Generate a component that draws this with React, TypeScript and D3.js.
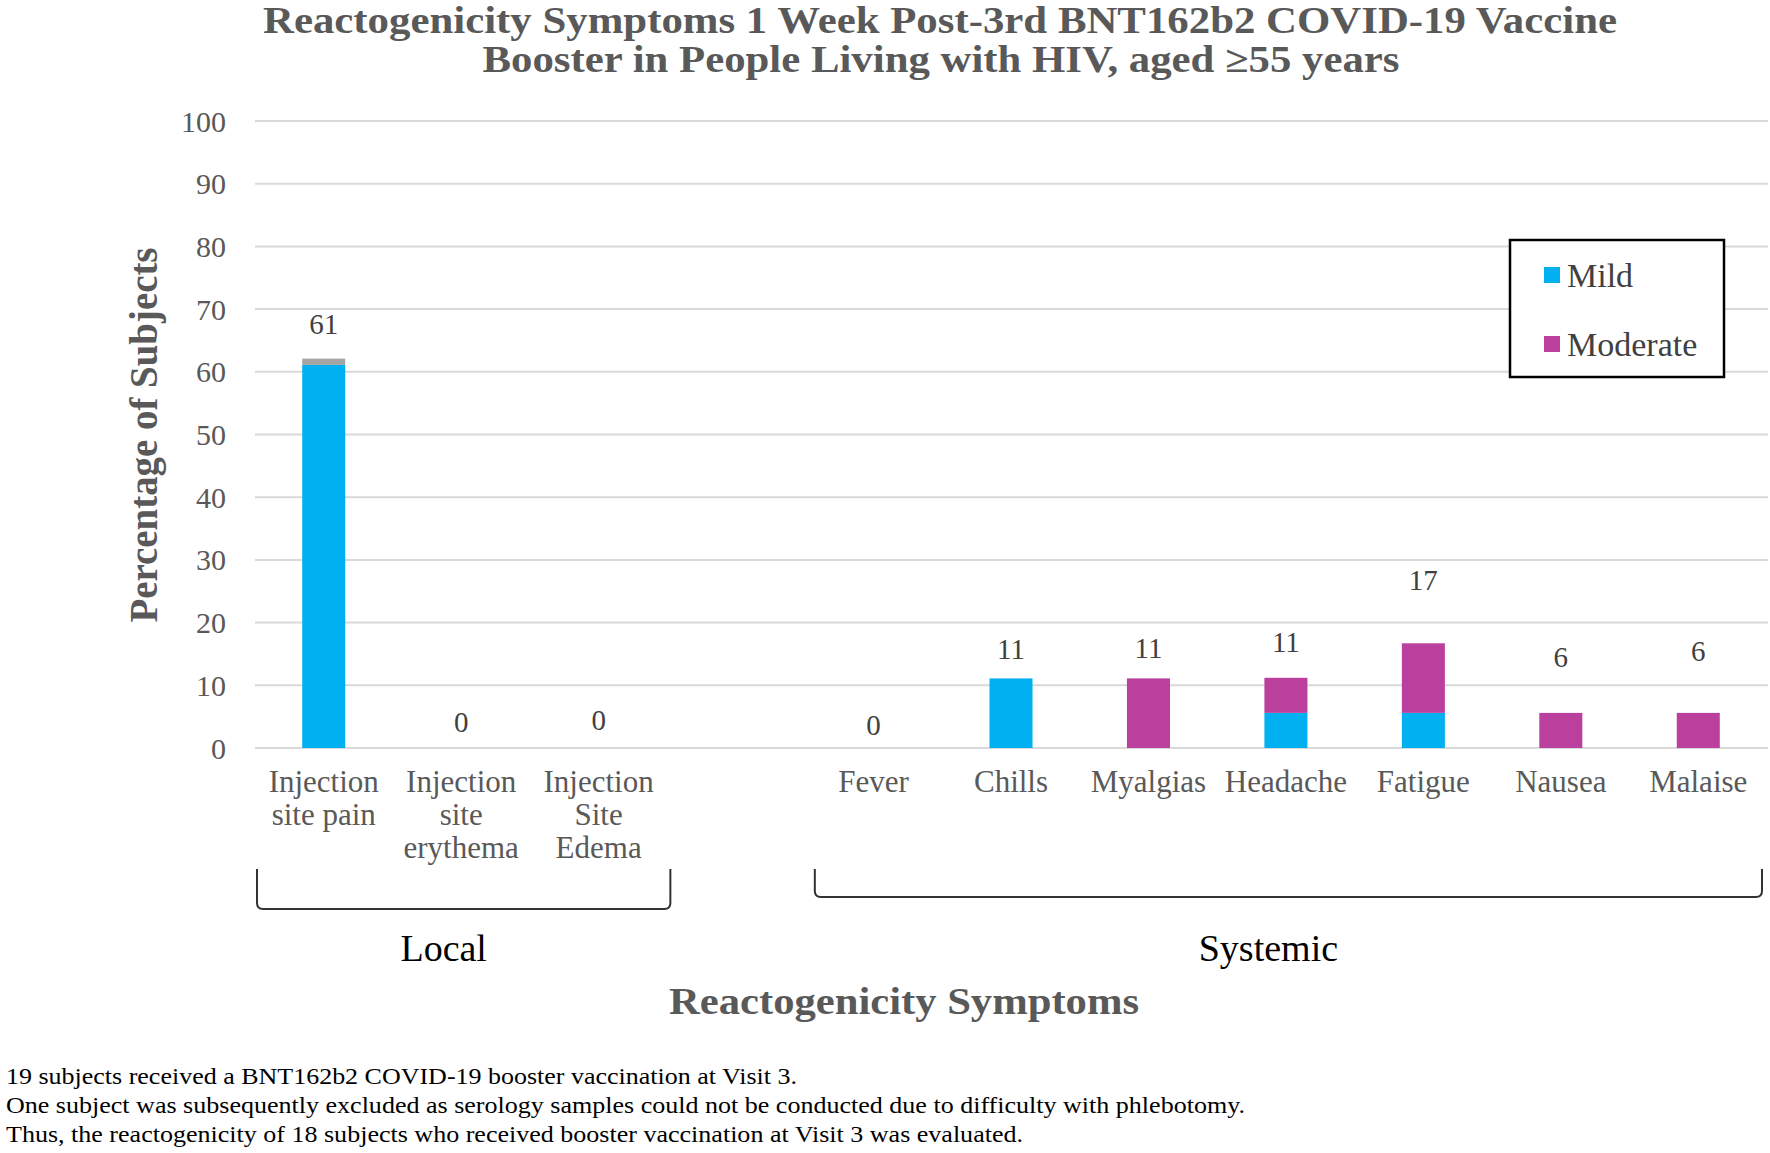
import React from "react";
import * as d3 from "d3";

// ---------- data ----------
const categories = [
  "Injection site pain",
  "Injection site erythema",
  "Injection Site Edema",
  "",
  "Fever",
  "Chills",
  "Myalgias",
  "Headache",
  "Fatigue",
  "Nausea",
  "Malaise",
];
const categoryLines = [
  ["Injection", "site pain"],
  ["Injection", "site", "erythema"],
  ["Injection", "Site", "Edema"],
  [],
  ["Fever"],
  ["Chills"],
  ["Myalgias"],
  ["Headache"],
  ["Fatigue"],
  ["Nausea"],
  ["Malaise"],
];
const mild = [61.1, 0, 0, 0, 0, 11.1, 0, 5.6, 5.6, 0, 0];
const moderate = [0, 0, 0, 0, 0, 0, 11.1, 5.6, 11.1, 5.6, 5.6];
const unlabeled = [1.0, 0, 0, 0, 0, 0, 0, 0, 0, 0, 0];
const totalLabels = ["61", "0", "0", "", "0", "11", "11", "11", "17", "6", "6"];
const yTicks = [0, 10, 20, 30, 40, 50, 60, 70, 80, 90, 100];
const groups = [
  { name: "Local", from: 0, to: 2 },
  { name: "Systemic", from: 4, to: 10 },
];
const legendItems = ["Mild", "Moderate"];
const titleLines = [
  "Reactogenicity Symptoms 1 Week Post-3rd BNT162b2 COVID-19 Vaccine",
  "Booster in People Living with HIV, aged \u226555 years",
];
const footnotes = [
  "19 subjects received a BNT162b2 COVID-19 booster vaccination at Visit 3.",
  "One subject was subsequently excluded as serology samples could not be conducted due to difficulty with phlebotomy.",
  "Thus, the reactogenicity of 18 subjects who received booster vaccination at Visit 3 was evaluated.",
];

// ---------- styling ----------
const W = 1770;
const H = 1153;
const FONT = "'Liberation Serif', 'Times New Roman', serif";
const GREY_TEXT = "#595959";
const COLORS: Record<string, string> = {
  Mild: "#00B0F0",
  Moderate: "#BB3F9D",
  Other: "#A5A5A5",
};
// manual data-label lift (px) as placed in the original figure
const labelLift = [25, 16, 18, 0, 13, 19, 20, 26, 53, 46, 52];

export default function App() {
  const x = d3
    .scaleBand<number>()
    .domain(d3.range(categories.length))
    .range([255, 1767])
    .paddingInner(0.687)
    .paddingOuter(0.3435);
  const y = d3.scaleLinear().domain([0, 100]).range([748, 121]);

  const rows = categories.map((c, i) => ({
    i,
    Mild: mild[i],
    Moderate: moderate[i],
    Other: unlabeled[i],
  }));
  const stack = d3.stack<any>().keys(["Mild", "Moderate", "Other"]);
  const series = stack(rows);

  const step = x.step();
  const bandStart = (i: number) => (x(i) as number) - x.paddingOuter() * step;

  return (
    <svg
      width={W}
      height={H}
      style={{ position: "absolute", left: 0, top: 0, background: "#fff" }}
      fontFamily={FONT}
    >
      <rect x={0} y={0} width={W} height={H} fill="#fff" />

      {/* title */}
      <text
        x={940}
        y={33}
        textAnchor="middle"
        fontSize={37}
        fontWeight="bold"
        fill={GREY_TEXT}
        textLength={1354}
        lengthAdjust="spacingAndGlyphs"
      >
        {titleLines[0]}
      </text>
      <text
        x={941}
        y={72}
        textAnchor="middle"
        fontSize={37}
        fontWeight="bold"
        fill={GREY_TEXT}
        textLength={917}
        lengthAdjust="spacingAndGlyphs"
      >
        {titleLines[1]}
      </text>

      {/* gridlines + ticks */}
      {yTicks.map((t) => (
        <g key={t}>
          <line
            x1={255}
            x2={1768}
            y1={y(t)}
            y2={y(t)}
            stroke="#D9D9D9"
            strokeWidth={2}
          />
          <text
            x={226}
            y={y(t)}
            dy="0.35em"
            textAnchor="end"
            fontSize={30}
            fill={GREY_TEXT}
          >
            {t}
          </text>
        </g>
      ))}

      {/* y axis title */}
      <text
        transform={`translate(157,435) rotate(-90)`}
        textAnchor="middle"
        fontSize={39}
        fontWeight="bold"
        fill={GREY_TEXT}
        textLength={375}
        lengthAdjust="spacingAndGlyphs"
      >
        Percentage of Subjects
      </text>

      {/* bars */}
      {series.map((s) => (
        <g key={s.key} fill={COLORS[s.key]}>
          {s.map((d, i) =>
            d[1] - d[0] > 0 ? (
              <rect
                key={i}
                x={x(i)}
                width={x.bandwidth()}
                y={y(d[1])}
                height={y(d[0]) - y(d[1])}
              />
            ) : null
          )}
        </g>
      ))}

      {/* data labels */}
      {categories.map((c, i) => {
        if (!totalLabels[i]) return null;
        const top = mild[i] + moderate[i] + unlabeled[i];
        return (
          <text
            key={i}
            x={(x(i) as number) + x.bandwidth() / 2}
            y={y(top) - labelLift[i]}
            textAnchor="middle"
            fontSize={29}
            fill="#404040"
          >
            {totalLabels[i]}
          </text>
        );
      })}

      {/* category labels */}
      {categoryLines.map((lines, i) => (
        <text
          key={i}
          x={(x(i) as number) + x.bandwidth() / 2}
          y={792}
          textAnchor="middle"
          fontSize={31}
          fill={GREY_TEXT}
        >
          {lines.map((l, k) => (
            <tspan key={k} x={(x(i) as number) + x.bandwidth() / 2} dy={k === 0 ? 0 : 33}>
              {l}
            </tspan>
          ))}
        </text>
      ))}

      {/* group brackets */}
      {groups.map((g, gi) => {
        const x0 = bandStart(g.from) + (gi === 0 ? 2 : 10);
        const x1 = bandStart(g.to) + step - (gi === 0 ? -3 : 5);
        const yTop = 869;
        const yBot = gi === 0 ? 909 : 897;
        const r = 6;
        const path = `M${x0},${yTop} L${x0},${yBot - r} Q${x0},${yBot} ${x0 + r},${yBot} L${x1 - r},${yBot} Q${x1},${yBot} ${x1},${yBot - r} L${x1},${yTop}`;
        const cx = (x0 + x1) / 2 - 20;
        return (
          <g key={g.name}>
            <path d={path} fill="none" stroke="#333" strokeWidth={2} />
            <text x={cx} y={961} textAnchor="middle" fontSize={38} fill="#000">
              {g.name}
            </text>
          </g>
        );
      })}

      {/* x axis title */}
      <text
        x={904}
        y={1014}
        textAnchor="middle"
        fontSize={38}
        fontWeight="bold"
        fill={GREY_TEXT}
        textLength={470}
        lengthAdjust="spacingAndGlyphs"
      >
        Reactogenicity Symptoms
      </text>

      {/* legend */}
      <g>
        <rect x={1510} y={240} width={214} height={137} fill="#fff" stroke="#000" strokeWidth={2.5} />
        {legendItems.map((k, i) => (
          <g key={k} transform={`translate(1544,${275 + i * 69})`}>
            <rect x={0} y={-8} width={16} height={16} fill={COLORS[k]} />
            <text x={23} y={0} dy="0.35em" fontSize={34} fill="#404040">
              {k}
            </text>
          </g>
        ))}
      </g>

      {/* footnotes */}
      {footnotes.map((f, i) => (
        <text
          key={i}
          x={6}
          y={1084 + i * 29}
          fontSize={23}
          fill="#000"
          textLength={[791, 1239, 1017][i]}
          lengthAdjust="spacingAndGlyphs"
        >
          {f}
        </text>
      ))}
    </svg>
  );
}
